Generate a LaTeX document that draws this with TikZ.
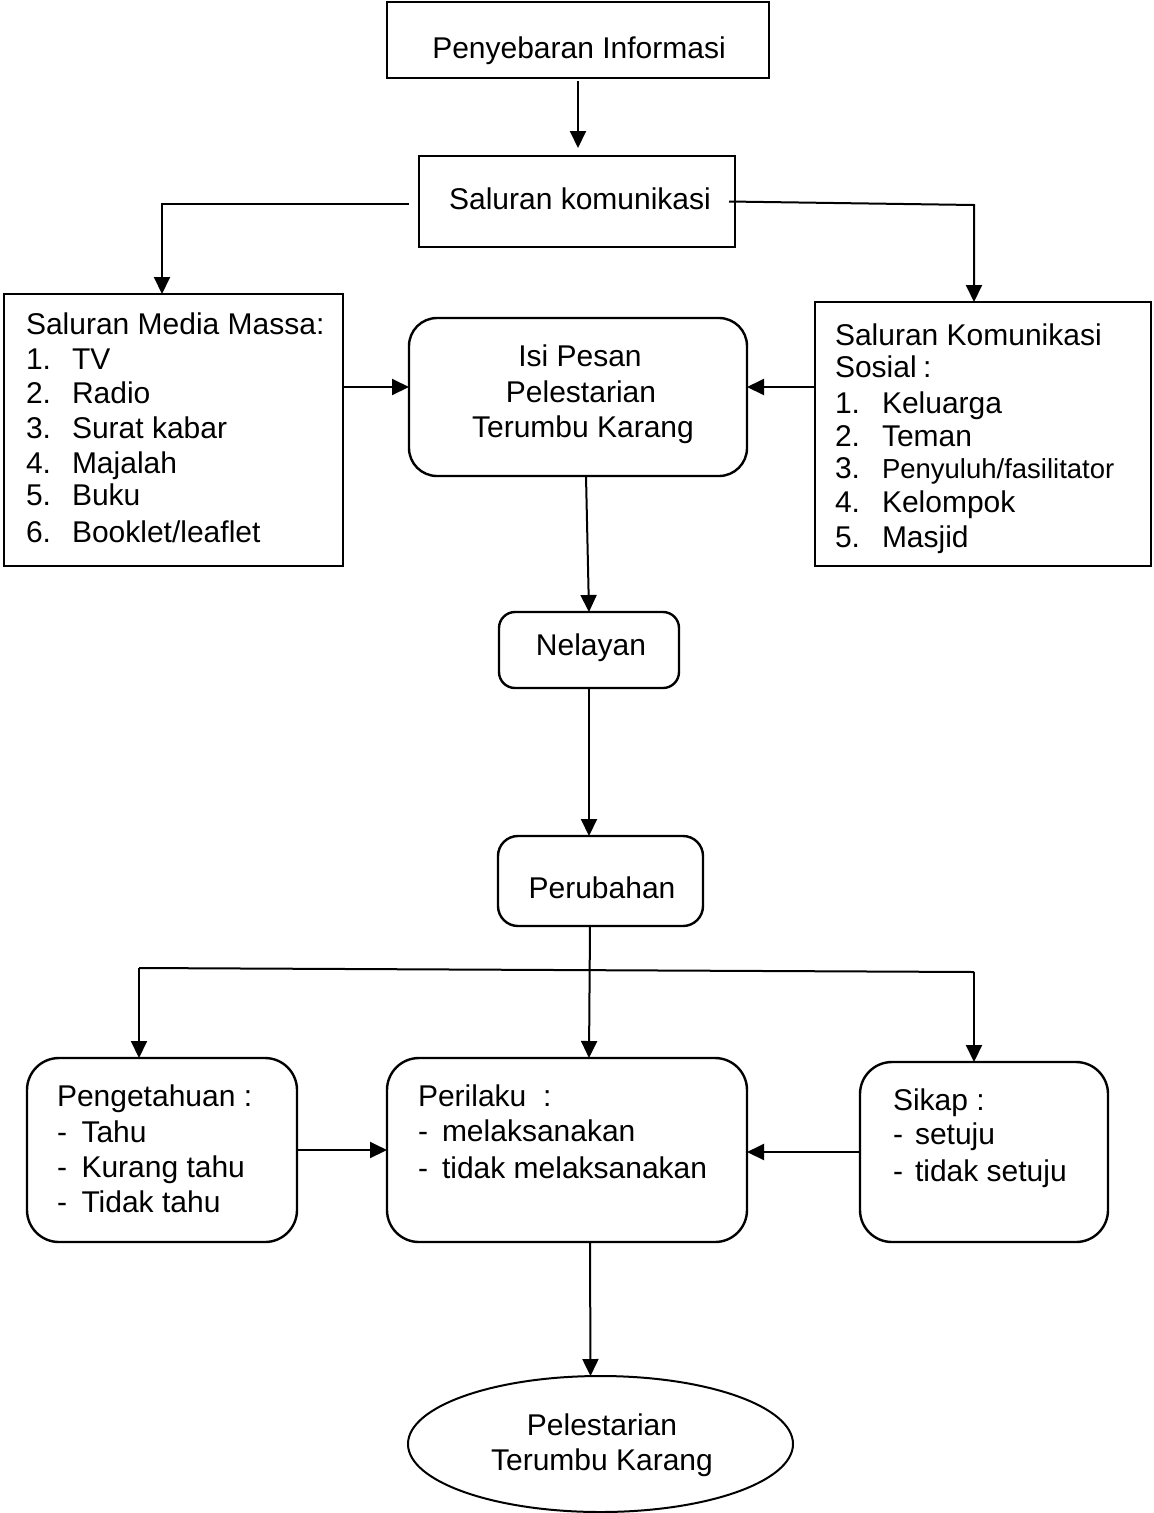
\documentclass[tikz,border=0pt]{standalone}
\usepackage{fontspec}
\setmainfont{Liberation Sans}
\usetikzlibrary{arrows.meta,shapes.geometric}
\begin{document}
\begin{tikzpicture}[x=1pt,y=-1pt,
  box/.style={draw,line width=2.4pt,inner sep=0pt,outer sep=0pt,rectangle},
  rbox/.style={box,rounded corners=#1},
  rbox/.default=26pt,
  oval/.style={draw,line width=2pt,inner sep=0pt,outer sep=0pt,ellipse},
  txt/.style={inner sep=0pt,outer sep=0pt,font=\fontsize{30}{34}\selectfont},
  small/.style={txt,font=\fontsize{27.5}{32}\selectfont},
  lt/.style={txt,anchor=base west},
  ct/.style={txt,anchor=base},
  ln/.style={line width=2pt},
  arr/.style={ln,-{Triangle[length=17pt,width=16pt]}}
]
\useasboundingbox (0,0) rectangle (1154,1513);

% boxes
\node[box,minimum width=382pt,minimum height=76pt] (info) at (578,40) {};
\node[box,minimum width=316pt,minimum height=91pt] (sal) at (577,201.5) {};
\node[box,minimum width=339pt,minimum height=272pt] (media) at (173.5,430) {};
\node[rbox=28pt,minimum width=338pt,minimum height=158pt] (isi) at (578,397) {};
\node[box,minimum width=336pt,minimum height=264pt] (sosial) at (983,434) {};
\node[rbox=16pt,minimum width=180pt,minimum height=76pt] (nel) at (589,650) {};
\node[rbox=20pt,minimum width=205pt,minimum height=90pt] (per) at (600.5,881) {};
\node[rbox=32pt,minimum width=270pt,minimum height=184pt] (peng) at (162,1150) {};
\node[rbox=32pt,minimum width=360pt,minimum height=184pt] (peri) at (567,1150) {};
\node[rbox=32pt,minimum width=248pt,minimum height=180pt] (sikap) at (984,1152) {};
\node[oval,minimum width=385pt,minimum height=136pt] (pel) at (600.5,1444) {};

% texts
\node[ct] (tinfo) at (579,58) {Penyebaran Informasi};
\node[ct] (tsal) at (580,209) {Saluran komunikasi};

\node[lt] (tmedia) at (26,334) {Saluran Media Massa:};
\node[lt] (mn1) at (26,369) {1.};
\node[lt] (mt1) at (72,369) {TV};
\node[lt] (mn2) at (26,403) {2.};
\node[lt] (mt2) at (72,403) {Radio};
\node[lt] (mn3) at (26,438) {3.};
\node[lt] (mt3) at (72,438) {Surat kabar};
\node[lt] (mn4) at (26,473) {4.};
\node[lt] (mt4) at (72,473) {Majalah};
\node[lt] (mn5) at (26,505) {5.};
\node[lt] (mt5) at (72,505) {Buku};
\node[lt] (mn6) at (26,542) {6.};
\node[lt] (mt6) at (72,542) {Booklet/leaflet};

\node[ct] (ti1) at (580,366) {Isi Pesan};
\node[ct] (ti2) at (581,402) {Pelestarian};
\node[ct] (ti3) at (583,437) {Terumbu Karang};

\node[lt] (tsos1) at (835,345) {Saluran Komunikasi};
\node[lt] (tsos2) at (835,377) {Sosial\hspace{-2pt} :};
\node[lt] (sn1) at (835,413) {1.};
\node[lt] (st1) at (882,413) {Keluarga};
\node[lt] (sn2) at (835,446) {2.};
\node[lt] (st2) at (882,446) {Teman};
\node[lt] (sn3) at (835,478) {3.};
\node[lt,small] (st3) at (882,478) {Penyuluh/fasilitator};
\node[lt] (sn4) at (835,512) {4.};
\node[lt] (st4) at (882,512) {Kelompok};
\node[lt] (sn5) at (835,547) {5.};
\node[lt] (st5) at (882,547) {Masjid};

\node[ct] (tnel) at (591,655) {Nelayan};
\node[ct] (tper) at (602,898) {Perubahan};

\node[lt] (tpeng) at (57,1106) {Pengetahuan :};
\node[lt] (pd1) at (57,1142) {-};
\node[lt] (pt1) at (81.5,1142) {Tahu};
\node[lt] (pd2) at (57,1177) {-};
\node[lt] (pt2) at (81.5,1177) {Kurang tahu};
\node[lt] (pd3) at (57,1212) {-};
\node[lt] (pt3) at (81.5,1212) {Tidak tahu};

\node[lt] (tperi) at (418,1106) {Perilaku\ \ :};
\node[lt] (rd1) at (418,1141) {-};
\node[lt] (rt1) at (442,1141) {melaksanakan};
\node[lt] (rd2) at (418,1178) {-};
\node[lt] (rt2) at (442,1178) {tidak melaksanakan};

\node[lt] (tsik) at (893,1110) {Sikap :};
\node[lt] (kd1) at (893,1144) {-};
\node[lt] (kt1) at (915,1144) {setuju};
\node[lt] (kd2) at (893,1181) {-};
\node[lt] (kt2) at (915,1181) {tidak setuju};

\node[ct] (tpel1) at (602,1435) {Pelestarian};
\node[ct] (tpel2) at (602,1470) {Terumbu Karang};

% connectors
\draw[arr,shorten >=8pt] ([yshift=-3pt]info.south) -- (info.south |- sal.north);

\coordinate (jl) at (162,204);
\coordinate (jr) at (974,205);
\draw[arr] ([xshift=-10pt,yshift=-2.5pt]sal.west) -- (jl) -- (jl |- media.north);
\draw[arr] ([xshift=-6pt]sal.east) -- (jr) -- (jr |- sosial.north);

\coordinate (hy) at (0,387);
\draw[arr] (media.east |- hy) -- (isi.west |- hy);
\draw[arr] (sosial.west |- hy) -- (isi.east |- hy);

\draw[arr] ([xshift=8pt]isi.south) -- (nel.north);
\draw[arr] (nel.south) -- (nel.south |- per.north);
\draw[arr] ([xshift=-10.5pt]per.south) -- ([xshift=22pt]peri.north);

\coordinate (bl) at (139,968);
\coordinate (br) at (974,972);
\draw[ln] (bl) -- (br);
\draw[arr] (bl) -- (bl |- peng.north);
\draw[arr] (br) -- (br |- sikap.north);

\draw[arr] (peng.east) -- (peri.west);
\draw[arr] (sikap.west) -- (sikap.west -| peri.east);
\draw[arr] ([xshift=23pt]peri.south) -- ([xshift=-10pt]pel.north);
\end{tikzpicture}
\end{document}
